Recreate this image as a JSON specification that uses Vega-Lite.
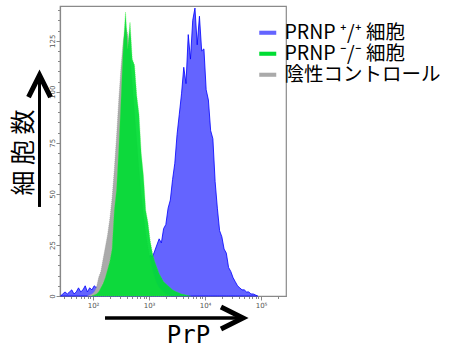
{
  "$schema": "https://vega.github.io/schema/vega-lite/v6.json",
  "width": 226,
  "height": 290,
  "autosize": "none",
  "padding": {"left": 60, "top": 6, "right": 170, "bottom": 51},
  "background": "white",
  "config": {"view": {"stroke": "#8a8a8a", "strokeWidth": 1.2}, "font": "Noto Sans CJK JP"},
  "resolve": {"axis": {"x": "independent", "y": "independent"}},
  "layer": [
    {
      "data": {"values": [
        {"sample": "pos", "prp": 26.3, "count": 0}, {"sample": "pos", "prp": 28.8, "count": 1}, {"sample": "pos", "prp": 31.6, "count": 2}, {"sample": "pos", "prp": 34.7, "count": 1}, {"sample": "pos", "prp": 38.0, "count": 2}, {"sample": "pos", "prp": 41.7, "count": 3}, {"sample": "pos", "prp": 45.7, "count": 1}, {"sample": "pos", "prp": 50.1, "count": 2}, {"sample": "pos", "prp": 55.0, "count": 4}, {"sample": "pos", "prp": 60.3, "count": 2}, {"sample": "pos", "prp": 66.1, "count": 3}, {"sample": "pos", "prp": 72.4, "count": 5}, {"sample": "pos", "prp": 79.4, "count": 2}, {"sample": "pos", "prp": 87.1, "count": 4}, {"sample": "pos", "prp": 95.5, "count": 3},
        {"sample": "pos", "prp": 105, "count": 5}, {"sample": "pos", "prp": 115, "count": 4}, {"sample": "pos", "prp": 126, "count": 6}, {"sample": "pos", "prp": 138, "count": 5}, {"sample": "pos", "prp": 151, "count": 7}, {"sample": "pos", "prp": 166, "count": 8}, {"sample": "pos", "prp": 182, "count": 10}, {"sample": "pos", "prp": 200, "count": 9}, {"sample": "pos", "prp": 219, "count": 12}, {"sample": "pos", "prp": 240, "count": 14}, {"sample": "pos", "prp": 263, "count": 13}, {"sample": "pos", "prp": 288, "count": 16}, {"sample": "pos", "prp": 316, "count": 15}, {"sample": "pos", "prp": 347, "count": 18}, {"sample": "pos", "prp": 380, "count": 17}, {"sample": "pos", "prp": 417, "count": 22}, {"sample": "pos", "prp": 457, "count": 19}, {"sample": "pos", "prp": 501, "count": 23}, {"sample": "pos", "prp": 550, "count": 20}, {"sample": "pos", "prp": 603, "count": 24}, {"sample": "pos", "prp": 661, "count": 21}, {"sample": "pos", "prp": 724, "count": 22}, {"sample": "pos", "prp": 794, "count": 19}, {"sample": "pos", "prp": 871, "count": 21}, {"sample": "pos", "prp": 955, "count": 18},
        {"sample": "pos", "prp": 1047, "count": 20}, {"sample": "pos", "prp": 1148, "count": 19}, {"sample": "pos", "prp": 1259, "count": 22}, {"sample": "pos", "prp": 1380, "count": 25}, {"sample": "pos", "prp": 1514, "count": 28}, {"sample": "pos", "prp": 1660, "count": 26}, {"sample": "pos", "prp": 1820, "count": 33}, {"sample": "pos", "prp": 1995, "count": 35}, {"sample": "pos", "prp": 2188, "count": 43}, {"sample": "pos", "prp": 2399, "count": 47}, {"sample": "pos", "prp": 2630, "count": 57}, {"sample": "pos", "prp": 2884, "count": 65}, {"sample": "pos", "prp": 3162, "count": 79}, {"sample": "pos", "prp": 3467, "count": 89}, {"sample": "pos", "prp": 3802, "count": 99}, {"sample": "pos", "prp": 4169, "count": 112}, {"sample": "pos", "prp": 4571, "count": 104}, {"sample": "pos", "prp": 5012, "count": 128}, {"sample": "pos", "prp": 5495, "count": 116}, {"sample": "pos", "prp": 6026, "count": 135}, {"sample": "pos", "prp": 6607, "count": 141}, {"sample": "pos", "prp": 7244, "count": 123}, {"sample": "pos", "prp": 7943, "count": 137}, {"sample": "pos", "prp": 8710, "count": 120}, {"sample": "pos", "prp": 9550, "count": 121},
        {"sample": "pos", "prp": 10471, "count": 101}, {"sample": "pos", "prp": 11482, "count": 96}, {"sample": "pos", "prp": 12589, "count": 81}, {"sample": "pos", "prp": 13804, "count": 77}, {"sample": "pos", "prp": 15136, "count": 56}, {"sample": "pos", "prp": 16596, "count": 43}, {"sample": "pos", "prp": 18197, "count": 32}, {"sample": "pos", "prp": 19953, "count": 29}, {"sample": "pos", "prp": 21878, "count": 23}, {"sample": "pos", "prp": 23988, "count": 21}, {"sample": "pos", "prp": 26303, "count": 14}, {"sample": "pos", "prp": 28840, "count": 12}, {"sample": "pos", "prp": 31623, "count": 9}, {"sample": "pos", "prp": 34674, "count": 7}, {"sample": "pos", "prp": 38019, "count": 5}, {"sample": "pos", "prp": 41687, "count": 4}, {"sample": "pos", "prp": 45709, "count": 3}, {"sample": "pos", "prp": 50119, "count": 3}, {"sample": "pos", "prp": 54954, "count": 2}, {"sample": "pos", "prp": 60256, "count": 2}, {"sample": "pos", "prp": 66069, "count": 1}, {"sample": "pos", "prp": 72444, "count": 1}, {"sample": "pos", "prp": 79433, "count": 0.5}, {"sample": "pos", "prp": 87096, "count": 0},

        {"sample": "neg", "prp": 79.4, "count": 0}, {"sample": "neg", "prp": 87.1, "count": 0.5}, {"sample": "neg", "prp": 95.5, "count": 1}, {"sample": "neg", "prp": 105, "count": 2}, {"sample": "neg", "prp": 115, "count": 4}, {"sample": "neg", "prp": 126, "count": 9}, {"sample": "neg", "prp": 138, "count": 12}, {"sample": "neg", "prp": 151, "count": 18}, {"sample": "neg", "prp": 166, "count": 24}, {"sample": "neg", "prp": 182, "count": 30}, {"sample": "neg", "prp": 200, "count": 38}, {"sample": "neg", "prp": 219, "count": 48}, {"sample": "neg", "prp": 240, "count": 62}, {"sample": "neg", "prp": 263, "count": 78}, {"sample": "neg", "prp": 288, "count": 96}, {"sample": "neg", "prp": 316, "count": 112}, {"sample": "neg", "prp": 347, "count": 125}, {"sample": "neg", "prp": 380, "count": 132}, {"sample": "neg", "prp": 417, "count": 128}, {"sample": "neg", "prp": 457, "count": 118}, {"sample": "neg", "prp": 501, "count": 104}, {"sample": "neg", "prp": 550, "count": 90}, {"sample": "neg", "prp": 603, "count": 76}, {"sample": "neg", "prp": 661, "count": 62}, {"sample": "neg", "prp": 724, "count": 50}, {"sample": "neg", "prp": 794, "count": 40}, {"sample": "neg", "prp": 871, "count": 31}, {"sample": "neg", "prp": 955, "count": 24}, {"sample": "neg", "prp": 1047, "count": 18}, {"sample": "neg", "prp": 1148, "count": 13}, {"sample": "neg", "prp": 1259, "count": 9}, {"sample": "neg", "prp": 1380, "count": 6}, {"sample": "neg", "prp": 1514, "count": 4}, {"sample": "neg", "prp": 1660, "count": 3}, {"sample": "neg", "prp": 1820, "count": 2}, {"sample": "neg", "prp": 1995, "count": 1}, {"sample": "neg", "prp": 2188, "count": 0.5}, {"sample": "neg", "prp": 2399, "count": 0},

        {"sample": "ko", "prp": 95.5, "count": 0}, {"sample": "ko", "prp": 105, "count": 0.5}, {"sample": "ko", "prp": 115, "count": 1}, {"sample": "ko", "prp": 126, "count": 2}, {"sample": "ko", "prp": 138, "count": 4}, {"sample": "ko", "prp": 151, "count": 6}, {"sample": "ko", "prp": 166, "count": 9}, {"sample": "ko", "prp": 182, "count": 13}, {"sample": "ko", "prp": 200, "count": 17}, {"sample": "ko", "prp": 219, "count": 23}, {"sample": "ko", "prp": 240, "count": 42}, {"sample": "ko", "prp": 263, "count": 52}, {"sample": "ko", "prp": 288, "count": 72}, {"sample": "ko", "prp": 316, "count": 96}, {"sample": "ko", "prp": 347, "count": 122}, {"sample": "ko", "prp": 380, "count": 139}, {"sample": "ko", "prp": 417, "count": 121}, {"sample": "ko", "prp": 457, "count": 134}, {"sample": "ko", "prp": 501, "count": 116}, {"sample": "ko", "prp": 550, "count": 113}, {"sample": "ko", "prp": 603, "count": 98}, {"sample": "ko", "prp": 661, "count": 89}, {"sample": "ko", "prp": 724, "count": 70}, {"sample": "ko", "prp": 794, "count": 59}, {"sample": "ko", "prp": 871, "count": 42}, {"sample": "ko", "prp": 955, "count": 36}, {"sample": "ko", "prp": 1047, "count": 27}, {"sample": "ko", "prp": 1148, "count": 21}, {"sample": "ko", "prp": 1259, "count": 17}, {"sample": "ko", "prp": 1380, "count": 14}, {"sample": "ko", "prp": 1514, "count": 11}, {"sample": "ko", "prp": 1660, "count": 9}, {"sample": "ko", "prp": 1820, "count": 7}, {"sample": "ko", "prp": 1995, "count": 6}, {"sample": "ko", "prp": 2188, "count": 5}, {"sample": "ko", "prp": 2399, "count": 4}, {"sample": "ko", "prp": 2630, "count": 3}, {"sample": "ko", "prp": 2884, "count": 2.5}, {"sample": "ko", "prp": 3162, "count": 2}, {"sample": "ko", "prp": 3467, "count": 1.5}, {"sample": "ko", "prp": 3802, "count": 1}, {"sample": "ko", "prp": 4169, "count": 0.8}, {"sample": "ko", "prp": 4571, "count": 0.5}, {"sample": "ko", "prp": 5012, "count": 0.3}, {"sample": "ko", "prp": 5495, "count": 0}
      ]},
      "encoding": {
        "x": {
          "field": "prp", "type": "quantitative",
          "scale": {"type": "log", "domain": [25.7, 279000], "nice": false},
          "axis": {
            "values": [30, 40, 50, 60, 70, 80, 90, 100, 200, 300, 400, 500, 600, 700, 800, 900, 1000, 2000, 3000, 4000, 5000, 6000, 7000, 8000, 9000, 10000, 20000, 30000, 40000, 50000, 60000, 70000, 80000, 90000, 100000, 200000],
            "labelExpr": "datum.value == 100 ? '10²' : datum.value == 1000 ? '10³' : datum.value == 10000 ? '10⁴' : datum.value == 100000 ? '10⁵' : ''",
            "labelOverlap": false,
            "labelFont": "DejaVu Sans", "labelFontSize": 7, "labelColor": "#555555", "labelPadding": 1,
            "tickSize": {"condition": {"test": "datum.value == 100 || datum.value == 1000 || datum.value == 10000 || datum.value == 100000", "value": 4}, "value": 2.5},
            "tickColor": "#888888", "domainColor": "#888888", "domainWidth": 1.2, "grid": false,
            "title": "PrP",
            "titleFont": "DejaVu Sans Mono", "titleFontSize": 24, "titleFontWeight": "normal", "titleColor": "black",
            "titleBaseline": "middle", "titleX": 128, "titleY": 39, "titleAlign": "center"
          }
        },
        "y": {
          "field": "count", "type": "quantitative",
          "scale": {"domain": [0, 142], "nice": false},
          "axis": {
            "values": [0, 5, 10, 15, 20, 25, 30, 35, 40, 45, 50, 55, 60, 65, 70, 75, 80, 85, 90, 95, 100, 105, 110, 115, 120, 125, 130, 135, 140],
            "labelExpr": "datum.value % 25 === 0 ? datum.label : ''",
            "labelOverlap": false,
            "labelAngle": -90, "labelAlign": "center", "labelBaseline": "bottom",
            "labelFont": "DejaVu Sans", "labelFontSize": 7, "labelColor": "#555555", "labelPadding": 1,
            "tickSize": {"condition": {"test": "datum.value % 25 === 0", "value": 4}, "value": 2.5},
            "tickColor": "#888888", "domainColor": "#888888", "domainWidth": 1.2, "grid": false,
            "title": "細 胞 数",
            "titleFont": "Noto Sans CJK JP", "titleFontSize": 25, "titleFontWeight": "normal", "titleColor": "black",
            "titleBaseline": "middle", "titleAngle": -90, "titleX": -37, "titleY": 146, "titleAlign": "center"
          }
        },
        "color": {
          "field": "sample", "type": "nominal",
          "scale": {"domain": ["pos", "ko", "neg"], "range": ["#6464ff", "#00dd33", "#aaaaaa"]},
          "legend": {
            "orient": "none", "legendX": 198, "legendY": 17, "title": null, "padding": 0,
            "symbolType": "M-1,-0.24H1V0.24H-1Z", "symbolSize": 289, "symbolStrokeWidth": 0,
            "labelExpr": "datum.label == 'pos' ? 'PRNP ⁺/⁺ 細胞' : datum.label == 'ko' ? 'PRNP ⁻/⁻ 細胞' : '陰性コントロール'",
            "labelFont": "Noto Sans CJK JP", "labelFontSize": 19.5, "labelColor": "black", "labelLimit": 400, "labelOffset": 7,
            "rowPadding": 0
          }
        }
      },
      "layer": [
        {"transform": [{"filter": "datum.sample === 'pos'"}], "mark": {"type": "area", "stroke": "#0000ff", "strokeWidth": 0.8}},
        {"transform": [{"filter": "datum.sample === 'neg'"}], "mark": {"type": "area", "stroke": "#999999", "strokeWidth": 0.6, "strokeDash": [1, 1]}},
        {"transform": [{"filter": "datum.sample === 'ko'"}], "mark": {"type": "area", "stroke": "#33ee33", "strokeWidth": 0.6, "strokeDash": [1, 1], "opacity": 0.92}}
      ]
    },
    {
      "data": {"values": [{}]},
      "mark": {"type": "rule", "color": "black", "strokeWidth": 3.5},
      "encoding": {
        "x": {"datum": 163.6, "type": "quantitative", "axis": null},
        "x2": {"datum": 46000},
        "y": {"datum": -10.8, "type": "quantitative", "axis": null}
      }
    },
    {
      "data": {"values": [{}]},
      "mark": {"type": "point", "shape": "M-2,-1L0,0L-2,1", "size": 484, "filled": false, "stroke": "black", "strokeWidth": 5, "opacity": 1},
      "encoding": {
        "x": {"datum": 47600, "type": "quantitative", "axis": null},
        "y": {"datum": -10.8, "type": "quantitative", "axis": null}
      }
    },
    {
      "data": {"values": [{}]},
      "mark": {"type": "rule", "color": "black", "strokeWidth": 3},
      "encoding": {
        "x": {"datum": 11.07, "type": "quantitative", "axis": null},
        "y": {"datum": 43.6, "type": "quantitative", "axis": null},
        "y2": {"datum": 106.5}
      }
    },
    {
      "data": {"values": [{}]},
      "mark": {"type": "point", "shape": "M-1,2L0,0L1,2", "size": 484, "filled": false, "stroke": "black", "strokeWidth": 5, "opacity": 1},
      "encoding": {
        "x": {"datum": 11.07, "type": "quantitative", "axis": null},
        "y": {"datum": 108.2, "type": "quantitative", "axis": null}
      }
    }
  ]
}
